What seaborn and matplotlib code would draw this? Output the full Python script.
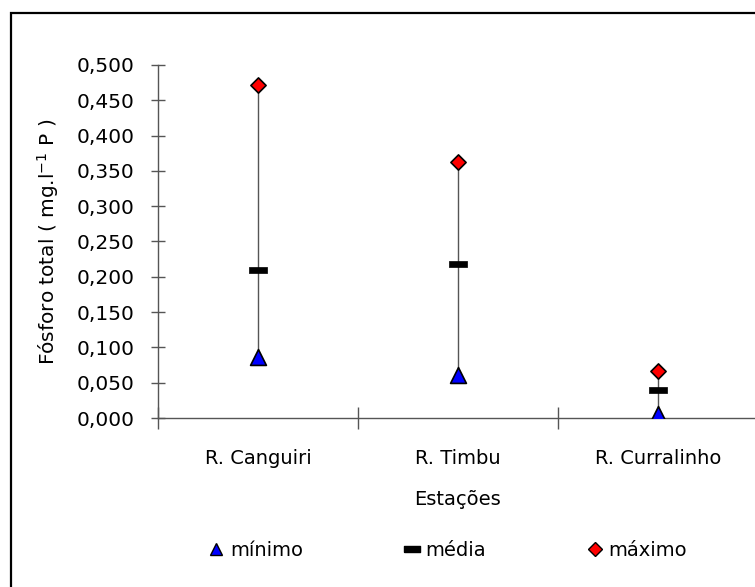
import matplotlib
matplotlib.use("Agg")
import matplotlib.pyplot as plt
import seaborn as sns
import pandas as pd
from matplotlib.ticker import FixedLocator, FuncFormatter, MultipleLocator
from matplotlib.lines import Line2D
from matplotlib.patches import Rectangle

estacoes = ["R. Canguiri", "R. Timbu", "R. Curralinho"]
minimo = [0.087, 0.061, 0.005]
media = [0.210, 0.218, 0.039]
maximo = [0.471, 0.362, 0.067]

sns.set_theme(style="white")
plt.rcParams["font.family"] = ["DejaVu Sans"]
plt.rcParams["mathtext.default"] = "regular"
plt.rcParams["text.color"] = "black"
plt.rcParams["axes.labelcolor"] = "black"

df = pd.DataFrame({"estacao": estacoes, "minimo": minimo, "media": media, "maximo": maximo})

W, H = 755, 587
fig = plt.figure(figsize=(W / 100, H / 100), dpi=100)
fig.patch.set_facecolor("white")
ax = fig.add_axes([158 / W, (H - 418) / H, 600 / W, (418 - 65) / H])
ax.set_facecolor("white")

line_col = "#555555"
ax.vlines(df["estacao"], df["minimo"], df["maximo"], color=line_col, linewidth=1.0, zorder=1)

bar_marker = [(-3, -1), (3, -1), (3, 1), (-3, 1), (-3, -1)]
sns.scatterplot(data=df, x="estacao", y="minimo", ax=ax, marker="^", s=130,
                color="#0000ff", edgecolor="black", linewidth=1.2, zorder=3)
sns.scatterplot(data=df, x="estacao", y="media", ax=ax, marker=bar_marker, s=150,
                color="black", edgecolor="black", linewidth=0.5, zorder=3)
sns.scatterplot(data=df, x="estacao", y="maximo", ax=ax, marker="D", s=60,
                color="#ff0000", edgecolor="black", linewidth=1.2, zorder=3)

ax.set_xlim(-0.5, 2.5)
ax.set_ylim(0, 0.5)

for s in ["top", "right"]:
    ax.spines[s].set_visible(False)
for s in ["left", "bottom"]:
    ax.spines[s].set_color(line_col)
    ax.spines[s].set_linewidth(1.0)

ax.yaxis.set_major_locator(MultipleLocator(0.05))
ax.yaxis.set_major_formatter(FuncFormatter(lambda v, p: f"{v:.3f}".replace(".", ",")))
ax.tick_params(axis="y", left=True, direction="inout", length=10, width=1.0, color=line_col,
               labelsize=14.5, pad=12, labelcolor="black")

ax.xaxis.set_major_locator(FixedLocator([-0.5, 0.5, 1.5, 2.5]))
ax.xaxis.set_major_formatter(FuncFormatter(lambda v, p: ""))
ax.xaxis.set_minor_locator(FixedLocator([0, 1, 2]))
ax.xaxis.set_minor_formatter(FuncFormatter(lambda v, p: estacoes[int(round(v))]))
ax.tick_params(axis="x", which="major", bottom=True, direction="inout", length=16, width=1.0,
               color=line_col)
ax.tick_params(axis="x", which="minor", bottom=True, length=0, labelsize=14, pad=22,
               labelcolor="black")

ax.set_xlabel("Estações", fontsize=14, labelpad=16, color="black")
ax.set_ylabel(r"Fósforo total ( mg.l$^{-1}$ P )", fontsize=14.5, labelpad=11, color="black")

handles = [
    Line2D([], [], linestyle="none", marker="^", markersize=9, markerfacecolor="#0000ff",
           markeredgecolor="black", markeredgewidth=1.0),
    Line2D([], [], linestyle="none", marker=bar_marker, markersize=11, markerfacecolor="black",
           markeredgecolor="black"),
    Line2D([], [], linestyle="none", marker="D", markersize=7, markerfacecolor="#ff0000",
           markeredgecolor="black", markeredgewidth=1.0),
]
leg = fig.legend(handles, ["mínimo", "média", "máximo"], loc="center",
                 bbox_to_anchor=(448 / W, 1 - 550 / H), ncol=3, frameon=False, fontsize=14,
                 handlelength=0.8, handletextpad=0.3, columnspacing=5.2)
for t in leg.get_texts():
    t.set_color("black")

fig.patches.append(Rectangle((11 / W, -0.1), 1.2, 1 - 13 / H + 0.1, transform=fig.transFigure,
                             fill=False, edgecolor="black", linewidth=1.6))

fig.savefig("out.png", dpi=100)
